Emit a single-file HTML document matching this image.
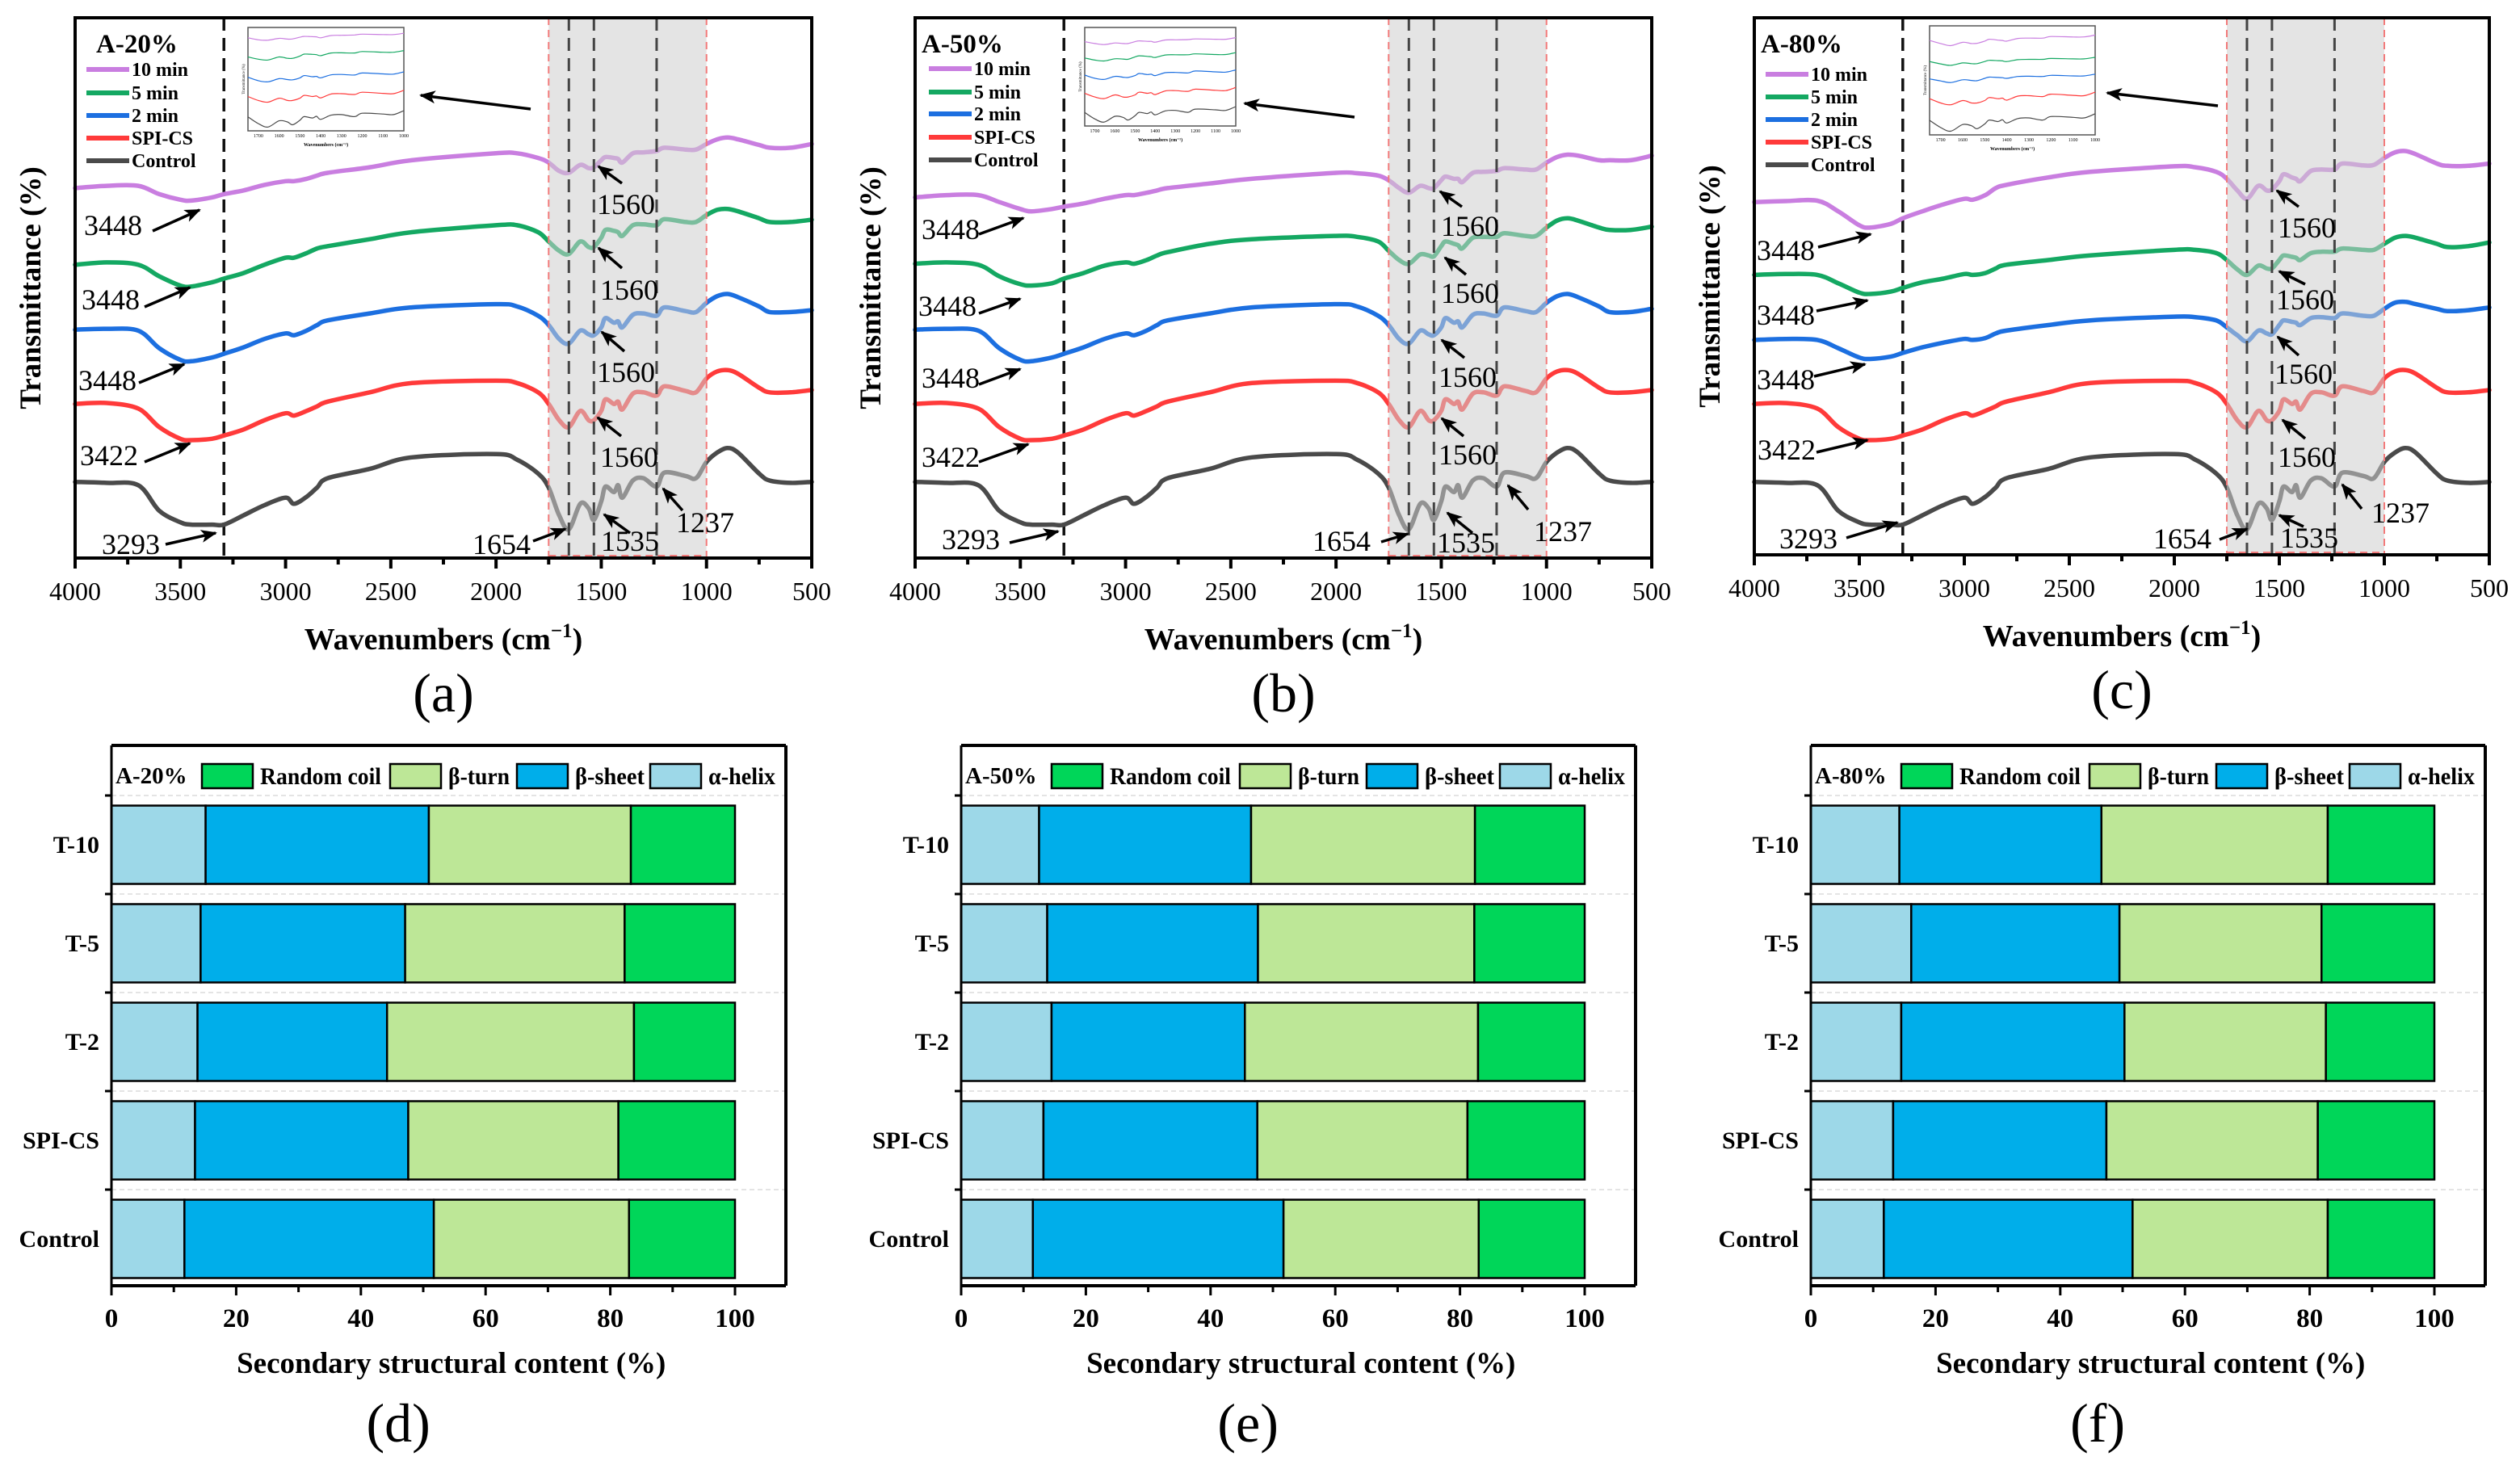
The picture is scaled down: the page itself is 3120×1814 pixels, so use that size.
<!DOCTYPE html>
<html><head><meta charset="utf-8"><title>FTIR spectra and secondary structure</title>
<style>
html,body{margin:0;padding:0;background:#fff;}
svg{display:block;font-family:"Liberation Serif","Times New Roman",serif;}
</style></head>
<body>
<svg id="fig" width="3120" height="1814" viewBox="0 0 3120 1814" xmlns="http://www.w3.org/2000/svg">
<defs>
<marker id="ahBig" markerWidth="20" markerHeight="16" refX="18" refY="8" orient="auto" markerUnits="userSpaceOnUse">
<path d="M0,0 L20,8 L0,16 L5,8 Z" fill="#000"/>
</marker>
</defs>
</svg>
<script>
// ---------- FTIR data (shared wavenumber grid, values in transmittance offset units; larger = lower on plot) ----------
const wavenumbers = [4000,3850,3700,3600,3500,3448,3350,3293,3200,3100,3000,2960,2900,2850,2800,2600,2400,2000,1900,1800,1750,1700,1654,1600,1560,1535,1500,1480,1440,1420,1400,1350,1300,1237,1200,1100,1050,1000,950,900,850,750,700,600,500];
const controlVals = [1038,1040,1045,1100,1125,1130,1130,1130,1110,1088,1072,1085,1070,1050,1030,1010,985,978,990,1020,1050,1110,1140,1085,1095,1120,1080,1048,1060,1045,1072,1035,1030,1048,1018,1025,1030,995,975,965,975,1020,1035,1040,1038];
const spiCsVals = [870,868,880,920,945,948,945,938,925,905,890,895,885,875,865,845,825,820,825,845,870,905,920,885,905,905,885,860,870,865,882,848,845,852,832,842,845,815,800,797,805,835,845,845,840];
const a20min2 = [710,708,712,750,775,778,770,762,748,730,718,722,712,700,690,675,662,655,660,680,700,730,740,712,720,722,705,685,695,692,705,678,675,680,662,670,672,652,638,633,640,660,672,672,668];
const a20min5 = [570,565,570,595,615,617,608,600,588,570,555,555,545,535,530,515,500,485,485,500,520,540,547,520,532,532,512,495,497,500,508,485,483,485,472,478,478,463,452,450,455,470,478,478,473];
const a20min10 = [405,400,400,418,430,432,425,418,410,398,390,390,385,378,372,360,345,330,330,340,350,368,372,355,362,360,345,338,340,342,350,330,328,325,318,322,322,310,300,296,300,312,318,318,310];
const a50min2 = [710,708,712,750,775,778,770,762,748,730,718,722,712,700,690,675,662,655,660,680,700,730,740,712,720,722,705,685,695,692,705,678,675,680,662,670,672,652,638,633,640,660,672,672,665];
const a50min5 = [568,565,570,595,612,615,610,600,588,572,565,568,560,550,543,525,515,508,510,520,540,560,568,548,550,552,530,520,525,528,535,512,510,510,502,508,508,490,475,470,475,490,495,495,488];
const a50min10 = [425,420,420,435,450,455,450,445,438,428,420,420,415,410,405,395,385,372,373,378,388,405,415,400,405,405,388,380,385,385,392,372,370,368,362,365,365,350,338,333,335,345,345,345,335];
const a80min2 = [732,730,732,750,770,773,768,760,748,738,730,732,728,718,712,700,690,682,683,690,705,722,735,712,718,720,700,690,693,695,700,685,683,685,675,680,680,665,652,650,655,665,670,668,662];
const a80min5 = [592,590,592,610,630,633,628,620,608,600,590,592,588,578,570,560,550,538,538,545,560,580,592,572,578,578,560,550,553,555,560,545,542,542,535,538,538,525,512,508,512,525,532,530,522];
const a80min10 = [435,433,432,455,485,490,482,470,455,440,428,430,420,405,398,382,370,358,360,370,385,410,428,400,410,408,390,375,382,385,390,368,365,365,352,356,355,340,328,325,332,352,357,357,352];
const xTickValues = [4000,3500,3000,2500,2000,1500,1000,500];
const xTickLabels = ["4000","3500","3000","2500","2000","1500","1000","500"];

// ---------- Secondary structure data ----------
const categories = ["T-10","T-5","T-2","SPI-CS","Control"];
const helixD = [15.1,14.3,13.8,13.4,11.7];
const sheetD = [35.8,32.8,30.4,34.2,40.0];
const turnD  = [32.4,35.2,39.6,33.7,31.3];
const coilD  = [16.7,17.7,16.2,18.7,17.0];
const helixE = [12.5,13.8,14.5,13.2,11.5];
const sheetE = [34.0,33.8,31.0,34.3,40.2];
const turnE  = [35.9,34.7,37.4,33.7,31.3];
const coilE  = [17.6,17.7,17.1,18.8,17.0];
const helixF = [14.2,16.1,14.5,13.2,11.7];
const sheetF = [32.4,33.4,35.8,34.2,39.9];
const turnF  = [36.3,32.4,32.3,33.9,31.3];
const coilF  = [17.1,18.1,17.4,18.7,17.1];
const barTickValues = [0,20,40,60,80,100];
const barTickLabels = ["0","20","40","60","80","100"];

const NS = 'http://www.w3.org/2000/svg';
const svg = document.getElementById('fig');
function mk(tag, attrs, parent){
  const e = document.createElementNS(NS, tag);
  for (const k in attrs) e.setAttribute(k, attrs[k]);
  parent.appendChild(e);
  return e;
}
function txt(str, attrs, parent){
  const t = mk('text', attrs, parent);
  t.textContent = str;
  return t;
}
function smoothPath(pts){
  let d = 'M' + pts[0][0].toFixed(1) + ',' + pts[0][1].toFixed(1);
  for (let i = 0; i < pts.length - 1; i++){
    const p0 = pts[Math.max(0, i-1)], p1 = pts[i], p2 = pts[i+1], p3 = pts[Math.min(pts.length-1, i+2)];
    const c1x = p1[0] + (p2[0]-p0[0])/6, c1y = p1[1] + (p2[1]-p0[1])/6;
    const c2x = p2[0] - (p3[0]-p1[0])/6, c2y = p2[1] - (p3[1]-p1[1])/6;
    d += ' C' + c1x.toFixed(1) + ',' + c1y.toFixed(1) + ' ' + c2x.toFixed(1) + ',' + c2y.toFixed(1) + ' ' + p2[0].toFixed(1) + ',' + p2[1].toFixed(1);
  }
  return d;
}

const COLORS = {c10:'#c97ee0', c5:'#14a862', c2:'#1c6fe0', spi:'#ff3a3a', ctrl:'#4a4a4a'};

function ftirPanel(P){
  const g = mk('g', {}, svg);
  
  
  const W = P.x1 - P.x0;
  const xs = w => P.x0 + (4000 - w) / 3500 * W;
  const ys = v => P.top + (v - 38) / (P.vb - 38) * (P.bottom - P.top);

  const ref = mk('line', {x1:xs(3293), x2:xs(3293), y1:P.top, y2:P.bottom, stroke:'#111', 'stroke-width':3.5, 'stroke-dasharray':'16 9'}, g);
  
  

  P.series.forEach(s => {
    const pts = wavenumbers.map((w, i) => [xs(w), ys(s.vals[i])]);
    const pl = mk('path', {d:smoothPath(pts), fill:'none', stroke:s.color, 'stroke-width':5.5, 'stroke-linejoin':'round', 'stroke-linecap':'round'}, g);
    
    
  });

  const sh = mk('rect', {x:xs(1750), y:P.top, width:xs(1000)-xs(1750), height:P.bottom-P.top, fill:'rgba(205,205,205,0.55)'}, g);
  
  
  [1750,1000].forEach(w => {
    const l = mk('line', {x1:xs(w), x2:xs(w), y1:P.top, y2:P.bottom, stroke:'#f27a7a', 'stroke-width':2, 'stroke-dasharray':'9 6'}, g);
    
    
  });
  mk('line', {x1:xs(1750), x2:xs(1000), y1:P.bottom-3, y2:P.bottom-3, stroke:'#f27a7a', 'stroke-width':2, 'stroke-dasharray':'9 6'}, g);
  [1654,1535,1237].forEach(w => {
    const l = mk('line', {x1:xs(w), x2:xs(w), y1:P.top, y2:P.bottom, stroke:'#444', 'stroke-width':3, 'stroke-dasharray':'16 9'}, g);
    
    
  });

  const fr = mk('rect', {x:P.x0, y:P.top, width:W, height:P.bottom-P.top, fill:'none', stroke:'#000', 'stroke-width':4}, g);
  
  

  for (let w = 4000; w >= 500; w -= 250){
    const major = (w % 500 === 0);
    mk('line', {x1:xs(w), x2:xs(w), y1:P.bottom, y2:P.bottom + (major ? 13 : 8), stroke:'#000', 'stroke-width':4}, g);
  }
  xTickValues.forEach((v, i) => {
    const t = txt(xTickLabels[i], {x:xs(v), y:P.bottom+52, 'font-size':32, 'text-anchor':'middle'}, g);
    
    
  });
  const xt = mk('text', {x:(P.x0+P.x1)/2, y:P.bottom+113, 'font-size':38, 'font-weight':'bold', 'text-anchor':'middle'}, g);
  xt.innerHTML = 'Wavenumbers (cm<tspan dy="-15" font-size="25">−1</tspan><tspan dy="15">)</tspan>';
  
  
  const yt = txt('Transmittance (%)', {x:0, y:0, 'font-size':37, 'font-weight':'bold', 'text-anchor':'middle', transform:'translate(' + (P.x0-43) + ',' + ((P.top+P.bottom)/2) + ') rotate(-90)'}, g);
  
  
  const sub = txt(P.sub, {x:(P.x0+P.x1)/2, y:P.bottom+190, 'font-size':68, 'text-anchor':'middle'}, g);
  
  

  const dx = P.x0 - 93;
  const lt = txt(P.title, {x:P.titleX + dx, y:65, 'font-size':33, 'font-weight':'bold'}, g);
  
  
  const legNames = ['10 min','5 min','2 min','SPI-CS','Control'];
  const legCols = [COLORS.c10, COLORS.c5, COLORS.c2, COLORS.spi, COLORS.ctrl];
  legNames.forEach((n, i) => {
    const y = P.legY[i];
    const lg = mk('g', {}, g);
    
    
    mk('line', {x1:P.legX + dx, x2:P.legX + 53 + dx, y1:y, y2:y, stroke:legCols[i], 'stroke-width':6}, lg);
    txt(n, {x:P.legX + 56 + dx, y:y + 8, 'font-size':24, 'font-weight':'bold'}, lg);
  });

  P.ann.forEach(a => {
    const ag = mk('g', {}, g);
    
    
    txt(a[0], {x:a[1] + dx, y:a[2] + 12, 'font-size':36, 'text-anchor':'middle'}, ag);
    mk('line', {x1:a[3] + dx, y1:a[4], x2:a[5] + dx, y2:a[6], stroke:'#000', 'stroke-width':3.5, 'marker-end':'url(#ahBig)'}, ag);
  });

  const I = P.inset;
  const ig = mk('g', {}, g);
  
  
  const ix0 = I[0] + dx, iy0 = I[1], ix1 = I[2] + dx, iy1 = I[3];
  mk('rect', {x:ix0, y:iy0, width:ix1-ix0, height:iy1-iy0, fill:'#fff', stroke:'#555', 'stroke-width':1.5}, ig);
  const ixs = w => ix0 + (1750 - w) / 750 * (ix1 - ix0);
  const iys = py => iy0 + 10 + (py - 190) / 460 * (iy1 - iy0 - 16);
  P.series.forEach(s => {
    const pts = [];
    wavenumbers.forEach((w, i) => { if (w <= 1750 && w >= 1000) pts.push([ixs(w), iys(ys(s.vals[i]))]); });
    mk('path', {d:smoothPath(pts), fill:'none', stroke:s.color, 'stroke-width':1.2}, ig);
  });
  [1700,1600,1500,1400,1300,1200,1100,1000].forEach(w => {
    txt(String(w), {x:ixs(w), y:iy1 + 8, 'font-size':6, 'text-anchor':'middle'}, ig);
  });
  txt('Wavenumbers (cm⁻¹)', {x:(ix0+ix1)/2, y:iy1 + 19, 'font-size':6, 'font-weight':'bold', 'text-anchor':'middle'}, ig);
  txt('Transmittance (%)', {x:0, y:0, 'font-size':5, 'text-anchor':'middle', transform:'translate(' + (ix0-4) + ',' + ((iy0+iy1)/2) + ') rotate(-90)'}, ig);
  const ia = mk('line', {x1:P.insetArrow[0] + dx, y1:P.insetArrow[1], x2:P.insetArrow[2] + dx, y2:P.insetArrow[3], stroke:'#000', 'stroke-width':3.5, 'marker-end':'url(#ahBig)'}, g);
  
  
}

const annA = [
 ["3448",140,279,189,286,247,260],["3448",137,371,179,380,235,356],["3448",133,471,172,474,228,451],
 ["3422",135,564,179,572,235,549],["3293",162,674,205,674,267,660],
 ["1560",775,253,770,227,741,206],["1560",779,359,770,332,741,307],["1560",775,461,773,435,745,411],["1560",779,566,769,540,740,517],
 ["1654",621,674,660,670,700,655],["1535",780,670,780,660,748,637],["1237",873,647,845,632,821,605]];
const annB = [
 ["3448",137,284,172,290,227,270],["3448",133,379,172,388,223,370],["3448",137,468,172,476,223,457],
 ["3422",137,566,172,572,233,550],["3293",162,668,210,672,270,658],
 ["1560",780,280,770,256,743,237],["1560",780,363,775,340,749,319],["1560",777,467,773,443,745,421],["1560",777,563,772,540,745,518],
 ["1654",621,670,670,671,703,661],["1535",775,672,783,660,752,635],["1237",895,658,852,631,827,601]];
const annC = [
 ["3448",132,310,172,306,237,290],["3448",132,390,170,385,233,372],["3448",132,470,167,466,230,451],
 ["3422",133,557,170,560,233,545],["3293",160,667,207,666,270,647],
 ["1560",777,282,767,256,740,236],["1560",775,371,775,352,743,336],["1560",773,463,767,440,741,417],["1560",777,566,775,543,747,520],
 ["1654",623,667,669,668,703,655],["1535",780,666,773,652,743,638],["1237",893,635,845,630,821,600]];

ftirPanel({name:'ftir-panel-a', x0:93, x1:1005, top:22, bottom:691, vb:1202, sub:'(a)', title:'A-20%', titleX:119,
  legX:107, legY:[86,115,143,171,199], ann:annA, inset:[307,34,500,162], insetArrow:[657,135,521,118],
  series:[{key:'10-min',vals:a20min10,color:COLORS.c10},{key:'5-min',vals:a20min5,color:COLORS.c5},{key:'2-min',vals:a20min2,color:COLORS.c2},{key:'spi-cs',vals:spiCsVals,color:COLORS.spi},{key:'control',vals:controlVals,color:COLORS.ctrl}]});
ftirPanel({name:'ftir-panel-b', x0:1133, x1:2045, top:22, bottom:691, vb:1202, sub:'(b)', title:'A-50%', titleX:101,
  legX:110, legY:[85,114,141,170,198], ann:annB, inset:[303,34,490,156], insetArrow:[637,145,501,128],
  series:[{key:'10-min',vals:a50min10,color:COLORS.c10},{key:'5-min',vals:a50min5,color:COLORS.c5},{key:'2-min',vals:a50min2,color:COLORS.c2},{key:'spi-cs',vals:spiCsVals,color:COLORS.spi},{key:'control',vals:controlVals,color:COLORS.ctrl}]});
ftirPanel({name:'ftir-panel-c', x0:2172, x1:3082, top:22, bottom:687, vb:1195, sub:'(c)', title:'A-80%', titleX:101,
  legX:107, legY:[92,120,148,176,204], ann:annC, inset:[310,32,515,167], insetArrow:[667,131,530,115],
  series:[{key:'10-min',vals:a80min10,color:COLORS.c10},{key:'5-min',vals:a80min5,color:COLORS.c5},{key:'2-min',vals:a80min2,color:COLORS.c2},{key:'spi-cs',vals:spiCsVals,color:COLORS.spi},{key:'control',vals:controlVals,color:COLORS.ctrl}]});

// ---------- Bar panels ----------
const BAR_COLORS = {helix:'#9dd8e8', sheet:'#00aeea', turn:'#bde797', coil:'#00d659'};
function barPanel(P){
  const g = mk('g', {}, svg);
  
  
  const top = 923, axisY = 1592, bandTop = 985, band = 122, barH = 97;
  const xs = v => P.x0 + v * 7.72;
  const right = P.x0 + 835;
  const yBand = i => bandTop + i * band;

  for (let i = 0; i <= 4; i++){
    const y = yBand(i);
    mk('line', {x1:P.x0, x2:right, y1:y, y2:y, stroke:'#dcdcdc', 'stroke-width':1.5, 'stroke-dasharray':'6 4'}, g);
    mk('line', {x1:P.x0-8, x2:P.x0, y1:y, y2:y, stroke:'#000', 'stroke-width':3}, g);
  }
  categories.forEach((c, i) => {
    const segs = [['helix', P.helix[i]], ['sheet', P.sheet[i]], ['turn', P.turn[i]], ['coil', P.coil[i]]];
    let acc = 0;
    const y = yBand(i) + (band - barH) / 2;
    segs.forEach(s => {
      const r = mk('rect', {x:xs(acc), y:y, width:xs(acc + s[1]) - xs(acc), height:barH, fill:BAR_COLORS[s[0]], stroke:'#000', 'stroke-width':2.5}, g);
      
      
      acc += s[1];
    });
    const cl = txt(c, {x:P.x0 - 15, y:y + barH/2 + 10, 'font-size':30, 'font-weight':'bold', 'text-anchor':'end'}, g);
    
    
  });
  mk('line', {x1:P.x0, x2:right, y1:top, y2:top, stroke:'#000', 'stroke-width':4}, g);
  mk('line', {x1:right, x2:right, y1:top, y2:axisY, stroke:'#000', 'stroke-width':4}, g);
  const yax = mk('line', {x1:P.x0, x2:P.x0, y1:top, y2:axisY, stroke:'#000', 'stroke-width':3}, g);
  
  
  const xax = mk('line', {x1:P.x0, x2:right, y1:axisY, y2:axisY, stroke:'#000', 'stroke-width':4}, g);
  
  
  for (let v = 0; v <= 100; v += 10){
    mk('line', {x1:xs(v), x2:xs(v), y1:axisY, y2:axisY + (v % 20 === 0 ? 12 : 8), stroke:'#000', 'stroke-width':3}, g);
  }
  barTickValues.forEach((v, i) => {
    const t = txt(barTickLabels[i], {x:xs(v), y:1643, 'font-size':33, 'font-weight':'bold', 'text-anchor':'middle'}, g);
    
    
  });
  const xt = txt('Secondary structural content (%)', {x:xs(54.5), y:1700, 'font-size':37, 'font-weight':'bold', 'text-anchor':'middle'}, g);
  
  
  const sub = txt(P.sub, {x:xs(46), y:1785, 'font-size':68, 'text-anchor':'middle'}, g);
  
  

  const lt = txt(P.title, {x:P.x0 + 5, y:970, 'font-size':29, 'font-weight':'bold'}, g);
  
  
  const leg = [['Random coil','coil',112,184,150],['β-turn','turn',345,417,76],['β-sheet','sheet',502,574,86],['α-helix','helix',667,739,83]];
  leg.forEach(l => {
    const lg = mk('g', {}, g);
    
    
    mk('rect', {x:P.x0 + l[2], y:946, width:63, height:30, fill:BAR_COLORS[l[1]], stroke:'#000', 'stroke-width':2.5}, lg);
    txt(l[0], {x:P.x0 + l[3], y:971, 'font-size':30, 'font-weight':'bold', textLength:l[4], lengthAdjust:'spacingAndGlyphs'}, lg);
  });
}
barPanel({name:'structure-panel-d', x0:138, sub:'(d)', title:'A-20%', helix:helixD, sheet:sheetD, turn:turnD, coil:coilD});
barPanel({name:'structure-panel-e', x0:1190, sub:'(e)', title:'A-50%', helix:helixE, sheet:sheetE, turn:turnE, coil:coilE});
barPanel({name:'structure-panel-f', x0:2242, sub:'(f)', title:'A-80%', helix:helixF, sheet:sheetF, turn:turnF, coil:coilF});
</script>
</body></html>
